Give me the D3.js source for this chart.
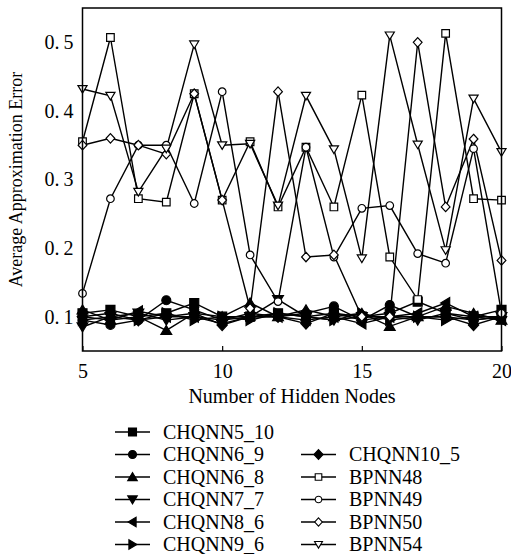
<!DOCTYPE html>
<html>
<head>
<meta charset="utf-8">
<script src="https://cdn.jsdelivr.net/npm/d3@7"></script>
<style>
  body { margin: 0; background: #fff; }
  svg text { font-family: "Liberation Serif", "Times New Roman", serif; fill: #000; }
</style>
</head>
<body>
<div id="chart"></div>
<script>
const nodes = [5, 6, 7, 8, 9, 10, 11, 12, 13, 14, 15, 16, 17, 18, 19, 20];
const yTicks = [0.1, 0.2, 0.3, 0.4, 0.5];
const xTicks = [5, 10, 15, 20];

const chqnn5_10 = [0.105, 0.110, 0.100, 0.105, 0.120, 0.100, 0.100, 0.105, 0.100, 0.105, 0.100, 0.105, 0.122, 0.105, 0.100, 0.110];
const chqnn6_9  = [0.095, 0.088, 0.095, 0.124, 0.110, 0.095, 0.100, 0.100, 0.105, 0.115, 0.095, 0.117, 0.100, 0.100, 0.095, 0.100];
const chqnn6_8  = [0.110, 0.095, 0.100, 0.080, 0.105, 0.100, 0.120, 0.100, 0.110, 0.100, 0.105, 0.086, 0.100, 0.115, 0.105, 0.095];
const chqnn7_7  = [0.085, 0.100, 0.105, 0.095, 0.100, 0.090, 0.100, 0.125, 0.100, 0.095, 0.100, 0.100, 0.095, 0.105, 0.095, 0.100];
const chqnn8_6  = [0.100, 0.095, 0.108, 0.100, 0.100, 0.095, 0.105, 0.100, 0.095, 0.100, 0.090, 0.100, 0.105, 0.120, 0.100, 0.095];
const chqnn9_6  = [0.095, 0.100, 0.095, 0.105, 0.095, 0.100, 0.095, 0.105, 0.100, 0.095, 0.105, 0.095, 0.100, 0.095, 0.100, 0.100];
const chqnn10_5 = [0.100, 0.105, 0.095, 0.100, 0.105, 0.088, 0.100, 0.100, 0.090, 0.105, 0.095, 0.100, 0.100, 0.100, 0.088, 0.100];
const bpnn48 = [0.355, 0.507, 0.272, 0.267, 0.425, 0.270, 0.355, 0.260, 0.347, 0.260, 0.423, 0.187, 0.125, 0.513, 0.272, 0.270];
const bpnn49 = [0.134, 0.272, 0.350, 0.350, 0.265, 0.428, 0.190, 0.122, 0.347, 0.187, 0.258, 0.262, 0.192, 0.178, 0.345, 0.105];
const bpnn50 = [0.350, 0.360, 0.350, 0.337, 0.425, 0.270, 0.112, 0.428, 0.187, 0.190, 0.100, 0.100, 0.500, 0.260, 0.359, 0.182];
const bpnn54 = [0.432, 0.422, 0.282, 0.345, 0.497, 0.350, 0.352, 0.262, 0.422, 0.344, 0.185, 0.510, 0.351, 0.197, 0.418, 0.340];

const series = [
  { name: "CHQNN5_10", values: chqnn5_10, shape: "square", filled: true },
  { name: "CHQNN6_9", values: chqnn6_9, shape: "circle", filled: true },
  { name: "CHQNN6_8", values: chqnn6_8, shape: "up", filled: true },
  { name: "CHQNN7_7", values: chqnn7_7, shape: "down", filled: true },
  { name: "CHQNN8_6", values: chqnn8_6, shape: "left", filled: true },
  { name: "CHQNN9_6", values: chqnn9_6, shape: "right", filled: true },
  { name: "CHQNN10_5", values: chqnn10_5, shape: "diamond", filled: true },
  { name: "BPNN48", values: bpnn48, shape: "square", filled: false },
  { name: "BPNN49", values: bpnn49, shape: "circle", filled: false },
  { name: "BPNN50", values: bpnn50, shape: "diamond", filled: false },
  { name: "BPNN54", values: bpnn54, shape: "down", filled: false }
];

const width = 511, height = 554;
const margin = { top: 8, right: 9.5, bottom: 203, left: 82.5 };

const svg = d3.select("#chart").append("svg")
  .attr("width", width)
  .attr("height", height);

const x = d3.scaleLinear().domain([5, 20]).range([margin.left, width - margin.right]);
const y = d3.scaleLinear().domain([0.05, 0.55]).range([height - margin.bottom, margin.top]);

// marker path for a shape, s = half size
function markerPath(shape, s) {
  const p = d3.path();
  if (shape === "square") {
    p.rect(-s, -s, 2 * s, 2 * s);
  } else if (shape === "circle") {
    p.arc(0, 0, s, 0, 2 * Math.PI);
  } else if (shape === "diamond") {
    p.moveTo(0, -s * 1.25); p.lineTo(s * 1.15, 0); p.lineTo(0, s * 1.25); p.lineTo(-s * 1.15, 0); p.closePath();
  } else if (shape === "up") {
    p.moveTo(0, -s * 1.1); p.lineTo(s * 1.2, s * 0.9); p.lineTo(-s * 1.2, s * 0.9); p.closePath();
  } else if (shape === "down") {
    p.moveTo(0, s * 1.1); p.lineTo(s * 1.2, -s * 0.9); p.lineTo(-s * 1.2, -s * 0.9); p.closePath();
  } else if (shape === "left") {
    p.moveTo(-s * 1.1, 0); p.lineTo(s * 0.9, -s * 1.2); p.lineTo(s * 0.9, s * 1.2); p.closePath();
  } else if (shape === "right") {
    p.moveTo(s * 1.1, 0); p.lineTo(-s * 0.9, -s * 1.2); p.lineTo(-s * 0.9, s * 1.2); p.closePath();
  }
  return p.toString();
}

const line = d3.line()
  .x((d, i) => x(nodes[i]))
  .y(d => y(d));

const plot = svg.append("g");

// lines
plot.selectAll(".series-line")
  .data(series)
  .join("path")
  .attr("class", "series-line")
  .attr("d", d => line(d.values))
  .attr("fill", "none")
  .attr("stroke", "#000")
  .attr("stroke-width", 1.4);

// markers
series.forEach(s => {
  plot.selectAll(null)
    .data(s.values)
    .join("path")
    .attr("transform", (d, i) => `translate(${x(nodes[i])},${y(d)})`)
    .attr("d", markerPath(s.shape, s.filled ? 4.5 : 3.8))
    .attr("fill", s.filled ? "#000" : "#fff")
    .attr("stroke", "#000")
    .attr("stroke-width", 1.2);
});

// frame
svg.append("rect")
  .attr("x", x(5)).attr("y", y(0.55))
  .attr("width", x(20) - x(5))
  .attr("height", y(0.05) - y(0.55))
  .attr("fill", "none")
  .attr("stroke", "#000")
  .attr("stroke-width", 1.5);

// x axis (inward ticks)
const xAxis = svg.append("g")
  .attr("transform", `translate(0,${y(0.05)})`)
  .call(d3.axisBottom(x).tickValues(xTicks).tickSizeInner(-5).tickSizeOuter(0).tickPadding(13));
xAxis.select(".domain").remove();
xAxis.selectAll("line").attr("stroke-width", 1.2);
xAxis.selectAll("text").attr("font-size", 20).attr("font-family", "Liberation Serif");

// y axis labels
const yAxis = svg.append("g")
  .attr("transform", `translate(${x(5)},0)`)
  .call(d3.axisLeft(y).tickValues(yTicks).tickSize(0).tickPadding(9).tickFormat(d => d3.format(".1f")(d).replace(".", ".\u2009")));
yAxis.select(".domain").remove();
yAxis.selectAll("text").attr("font-size", 20).attr("font-family", "Liberation Serif");

// axis titles
svg.append("text")
  .attr("x", (x(5) + x(20)) / 2)
  .attr("y", 403)
  .attr("text-anchor", "middle")
  .attr("font-size", 20)
  .text("Number of Hidden Nodes");

svg.append("text")
  .attr("transform", `translate(22,${(y(0.05) + y(0.55)) / 2}) rotate(-90)`)
  .attr("text-anchor", "middle")
  .attr("font-size", 18)
  .text("Average Approximation Error");

// legend
const legendPos = [
  [0, 0], [0, 1], [0, 2], [0, 3], [0, 4], [0, 5],
  [1, 1], [1, 2], [1, 3], [1, 4], [1, 5]
];
const colX = [115, 301];
const legend = svg.append("g");
series.forEach((s, i) => {
  const [c, r] = legendPos[i];
  const lx = colX[c], ly = 432 + r * 22.5;
  const g = legend.append("g").attr("transform", `translate(${lx},${ly})`);
  g.append("line").attr("x1", 0).attr("x2", 35).attr("y1", 0).attr("y2", 0)
    .attr("stroke", "#000").attr("stroke-width", 1.6);
  g.append("path")
    .attr("transform", "translate(17.5,0)")
    .attr("d", markerPath(s.shape, s.filled ? 4 : 3.3))
    .attr("fill", s.filled ? "#000" : "#fff")
    .attr("stroke", "#000")
    .attr("stroke-width", 1.1);
  g.append("text")
    .attr("x", 48)
    .attr("y", 0)
    .attr("dy", "0.33em")
    .attr("font-size", 20)
    .text(s.name);
});
</script>
</body>
</html>
